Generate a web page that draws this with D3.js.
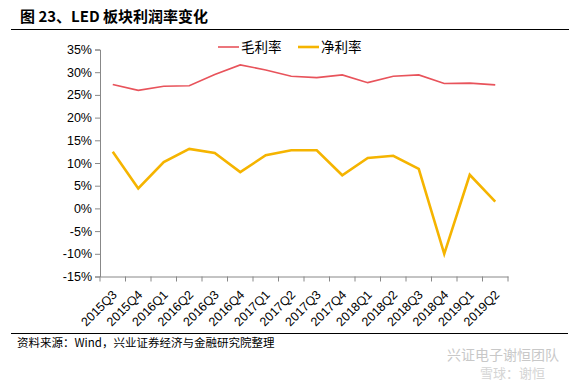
<!DOCTYPE html>
<html><head><meta charset="utf-8">
<script src="https://cdn.jsdelivr.net/npm/d3@7/dist/d3.min.js"></script>
<style>body{margin:0;background:#fff}svg{display:block}</style>
</head><body>
<svg id="c" width="577" height="385"></svg>
<script>
const categories = ["2015Q3","2015Q4","2016Q1","2016Q2","2016Q3","2016Q4","2017Q1","2017Q2","2017Q3","2017Q4","2018Q1","2018Q2","2018Q3","2018Q4","2019Q1","2019Q2"];
const grossMargin = [27.3,26.0,26.9,27.0,29.5,31.6,30.5,29.1,28.8,29.4,27.7,29.1,29.4,27.5,27.6,27.2];
const netMargin = [12.5,4.4,10.2,13.1,12.2,8.0,11.7,12.8,12.8,7.3,11.1,11.6,8.7,-10.0,7.4,1.5];
const yTicks = [-15,-10,-5,0,5,10,15,20,25,30,35];
const seriesNames = ["毛利率","净利率"];
const colors = ["#E8535B","#F5B400"];
const title = "图 23、LED 板块利润率变化";
const source = "资料来源：Wind，兴业证券经济与金融研究院整理";

const svg = d3.select("#c");
const x = d3.scaleBand().domain(categories).range([100, 508]);
const y = d3.scaleLinear().domain([-15, 35]).range([276.5, 49.5]);

// title
svg.append("text").attr("x", 20).attr("y", 22).text(title)
  .attr("font-family", "'Noto Sans CJK SC', sans-serif").attr("font-weight", "bold")
  .attr("font-size", 15).attr("fill", "#000");
svg.append("line").attr("x1", 11).attr("x2", 569).attr("y1", 29.5).attr("y2", 29.5)
  .attr("stroke", "#000").attr("stroke-width", 1.2);

// y axis
const yAxis = svg.append("g").attr("transform", "translate(100,0)")
  .call(d3.axisLeft(y).tickValues(yTicks).tickSize(5).tickFormat(d => d + "%"));
yAxis.select(".domain").attr("stroke", "#888");
yAxis.selectAll(".tick line").attr("stroke", "#888");
yAxis.selectAll("text").attr("font-family", "'Liberation Sans', Arial, sans-serif")
  .attr("font-size", 12.5).attr("fill", "#000").attr("x", -8);

// x axis
const xAxis = svg.append("g").attr("transform", "translate(0,276.5)")
  .call(d3.axisBottom(x).tickSize(5).tickSizeOuter(0));
xAxis.select(".domain").attr("stroke", "#888");
xAxis.selectAll(".tick line").attr("stroke", "#888").attr("transform", `translate(${-x.bandwidth()/2},0)`);
xAxis.append("line").attr("x1", 508).attr("x2", 508).attr("y1", 0).attr("y2", 5).attr("stroke", "#888");
xAxis.selectAll(".tick text")
  .attr("font-family", "'Liberation Sans', Arial, sans-serif").attr("font-size", 12.5).attr("fill", "#000")
  .attr("text-anchor", "end").attr("dy", 0).attr("y", 0)
  .attr("transform", "translate(5,19) rotate(-45)");

// lines
const line = d3.line().x((d, i) => x(categories[i]) + x.bandwidth()/2).y(d => y(d));
svg.append("path").datum(grossMargin).attr("d", line).attr("fill", "none")
  .attr("stroke", colors[0]).attr("stroke-width", 1.6);
svg.append("path").datum(netMargin).attr("d", line).attr("fill", "none")
  .attr("stroke", colors[1]).attr("stroke-width", 2.6);

// legend
const lg = [{x: 218, name: seriesNames[0], c: colors[0], w: 1.6}, {x: 298, name: seriesNames[1], c: colors[1], w: 2.6}];
lg.forEach(l => {
  svg.append("line").attr("x1", l.x).attr("x2", l.x + 21).attr("y1", 47).attr("y2", 47)
    .attr("stroke", l.c).attr("stroke-width", l.w);
  svg.append("text").attr("x", l.x + 23).attr("y", 52).text(l.name)
    .attr("font-family", "'Noto Sans CJK SC', sans-serif").attr("font-size", 13.5).attr("fill", "#000");
});

// footer
svg.append("line").attr("x1", 11).attr("x2", 568).attr("y1", 333.5).attr("y2", 333.5)
  .attr("stroke", "#000").attr("stroke-width", 1);
svg.append("text").attr("x", 17).attr("y", 347).text(source)
  .attr("font-family", "'Noto Sans CJK SC', serif").attr("font-size", 11.5).attr("fill", "#000");

// watermark
svg.append("text").attr("x", 447).attr("y", 360).text("兴证电子谢恒团队")
  .attr("font-family", "'Noto Sans CJK SC', sans-serif").attr("font-size", 14).attr("fill", "#c8c8c8");
svg.append("text").attr("x", 480).attr("y", 378).text("雪球：谢恒")
  .attr("font-family", "'Noto Sans CJK SC', sans-serif").attr("font-size", 13).attr("fill", "#d4d4d4");
</script>
</body></html>
